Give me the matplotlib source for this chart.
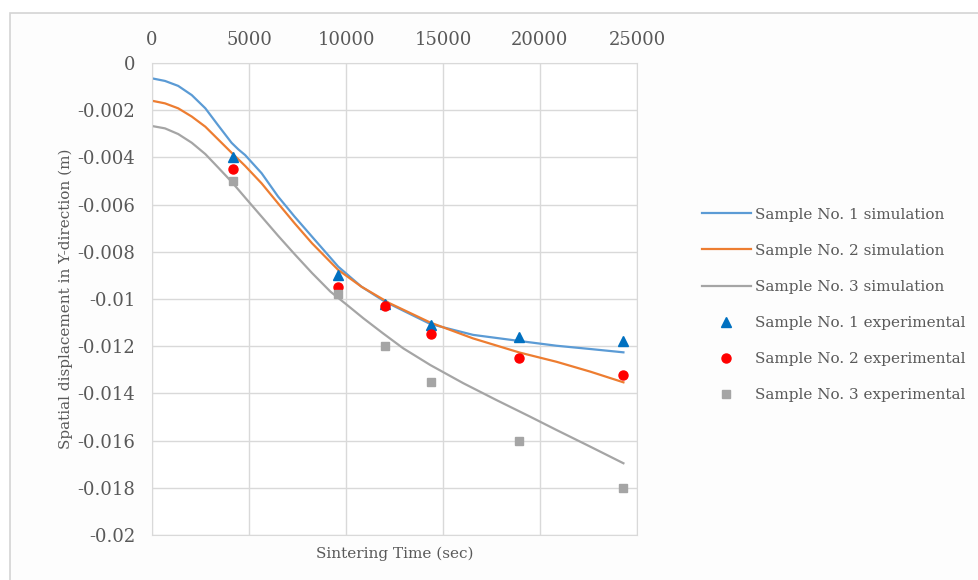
import matplotlib
matplotlib.use('Agg')
import matplotlib.pyplot as plt
from matplotlib.patches import Rectangle

# simulation curves (time in sec, displacement in m)
t_sim1 = [0, 670, 1350, 2050, 2750, 3400, 4100, 4450, 4800, 5650, 6500, 7350, 8250, 9600, 10800, 12000,
          14350, 16550, 18950, 20850, 22600, 24300]
y_sim1 = [-0.00065, -0.00076, -0.00097, -0.00136, -0.00192, -0.00263, -0.00338, -0.00366, -0.00390, -0.00467,
          -0.00566, -0.00651, -0.00736, -0.00863, -0.00948, -0.01011, -0.01106, -0.01152, -0.01178, -0.01198,
          -0.01212, -0.01226]

t_sim2 = [0, 670, 1350, 2050, 2750, 3400, 4100, 4800, 5650, 6500, 7350, 8250, 9600, 10800, 12250,
          14350, 16550, 18950, 20850, 22600, 24300]
y_sim2 = [-0.0016, -0.00171, -0.00192, -0.00227, -0.00270, -0.00323, -0.00380, -0.00436, -0.00510, -0.00595,
          -0.00679, -0.00764, -0.00877, -0.00948, -0.01018, -0.01100, -0.01167, -0.01227, -0.01266, -0.01308,
          -0.01353]

t_sim3 = [0, 670, 1350, 2050, 2750, 3400, 4100, 4850, 5650, 6500, 7350, 8250, 9200, 10050, 10900, 11900,
          12950, 14350, 16050, 17750, 19500, 20850, 22600, 24300]
y_sim3 = [-0.00267, -0.00277, -0.00301, -0.00338, -0.00386, -0.00442, -0.00503, -0.00575, -0.00651, -0.00732,
          -0.00810, -0.00890, -0.00969, -0.01025, -0.01082, -0.01145, -0.01209, -0.01280, -0.01357, -0.01428,
          -0.01499, -0.01555, -0.01626, -0.01696]

# experimental points
t_exp = [4200, 9600, 12000, 14400, 18900, 24300]
y_exp1 = [-0.0040, -0.0090, -0.0102, -0.0111, -0.0116, -0.0118]
y_exp2 = [-0.0045, -0.0095, -0.0103, -0.0115, -0.0125, -0.0132]
y_exp3 = [-0.0050, -0.0098, -0.0120, -0.0135, -0.0160, -0.0180]

x_ticks = [0, 5000, 10000, 15000, 20000, 25000]
y_ticks = [0, -0.002, -0.004, -0.006, -0.008, -0.01, -0.012, -0.014, -0.016, -0.018, -0.02]
y_ticklabels = ['0', '-0.002', '-0.004', '-0.006', '-0.008', '-0.01', '-0.012', '-0.014', '-0.016', '-0.018', '-0.02']

plt.rcParams['font.family'] = ['DejaVu Serif']
txt = '#595959'
grid = '#d9d9d9'

fig = plt.figure(figsize=(9.79, 5.8), dpi=100)
# chart frame
fig.patches.append(Rectangle((10 / 979, -0.1), 1.2, 1 - 13 / 580 + 0.1, transform=fig.transFigure,
                             facecolor='#fdfdfd', edgecolor='#d4d4d4', lw=1.2, zorder=-5))

ax = fig.add_axes([152 / 979, 1 - 535 / 580, 485 / 979, 472 / 580])
ax.set_facecolor('white')

ax.plot(t_sim1, y_sim1, color='#5B9BD5', lw=1.6, label='Sample No. 1 simulation')
ax.plot(t_sim2, y_sim2, color='#ED7D31', lw=1.6, label='Sample No. 2 simulation')
ax.plot(t_sim3, y_sim3, color='#A5A5A5', lw=1.6, label='Sample No. 3 simulation')
ax.plot(t_exp, y_exp1, ls='none', marker='^', ms=6.5, color='#0070C0', label='Sample No. 1 experimental')
ax.plot(t_exp, y_exp2, ls='none', marker='o', ms=6.5, color='#FF0000', label='Sample No. 2 experimental')
ax.plot(t_exp, y_exp3, ls='none', marker='s', ms=6, color='#A5A5A5', label='Sample No. 3 experimental')

ax.set_xlim(0, 25000)
ax.set_ylim(-0.02, 0)
ax.set_xticks(x_ticks)
ax.set_yticks(y_ticks)
ax.set_yticklabels(y_ticklabels)
ax.xaxis.tick_top()
ax.tick_params(length=0, labelsize=13, colors=txt, pad=12)
ax.tick_params(axis='x', pad=10)
ax.grid(True, color=grid, lw=1)
ax.set_axisbelow(True)
for s in ax.spines.values():
    s.set_color(grid)

ax.set_xlabel('Sintering Time (sec)', fontsize=11, color=txt)
ax.xaxis.set_label_position('bottom')
ax.xaxis.labelpad = 8
ax.set_ylabel('Spatial displacement in Y-direction (m)', fontsize=11, color=txt)
ax.yaxis.labelpad = 3

leg = fig.legend(loc='center left', bbox_to_anchor=(688 / 979, 1 - 305 / 580), frameon=False,
                 fontsize=11, labelspacing=1.45, handlelength=3.2, handletextpad=0.3, labelcolor=txt)

fig.savefig('out.png', dpi=100)
